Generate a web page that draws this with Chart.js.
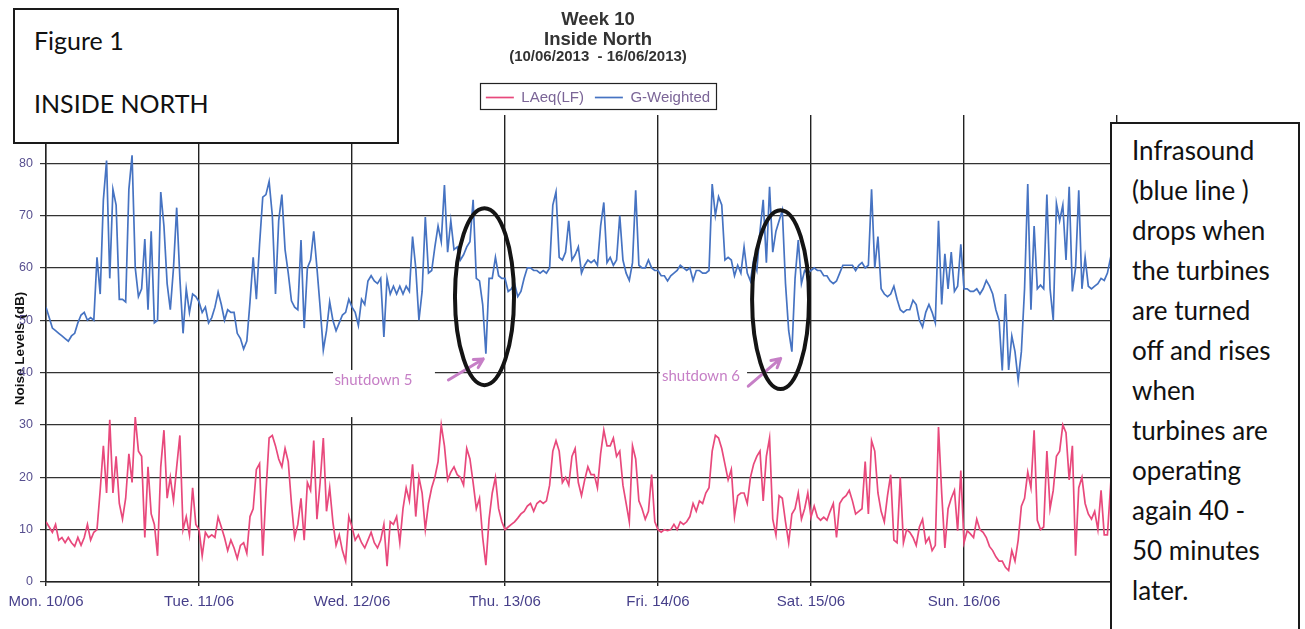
<!DOCTYPE html>
<html>
<head>
<meta charset="utf-8">
<script src="https://cdn.jsdelivr.net/npm/chart.js@4.4.1/dist/chart.umd.min.js"></script>
<style>
  html, body { margin: 0; padding: 0; background: #fff; }
  #wrap { position: relative; width: 1305px; height: 629px; overflow: hidden; background: #fff; }
  #c { position: absolute; left: 0; top: 0; }
  .box { position: absolute; box-sizing: border-box; background: #fff; border: 2px solid #1a1a1a; font-family: 'Lato', 'Open Sans', sans-serif; color: #111; }
  #fig { left: 13px; top: 8px; width: 386px; height: 136px; font-size: 25px; }
  #fig div { position: absolute; left: 19px; line-height: 30px; white-space: nowrap; }
  #note { left: 1110px; top: 122px; width: 190px; height: 540px; font-size: 26px; line-height: 40px; padding: 6px 0 0 20px; white-space: nowrap; }
</style>
</head>
<body>
<div id="wrap">
  <canvas id="c" width="1305" height="629"></canvas>
  <div class="box" id="fig"><div style="top:15px">Figure 1</div><div style="top:78px">INSIDE NORTH</div></div>
  <div class="box" id="note">Infrasound<br>(blue line )<br>drops when<br>the turbines<br>are turned<br>off and rises<br>when<br>turbines are<br>operating<br>again 40 -<br>50 minutes<br>later.</div>
</div>
<script>
// Tick labels (one per day)
const dayLabels = ['Mon. 10/06', 'Tue. 11/06', 'Wed. 12/06', 'Thu. 13/06', 'Fri. 14/06', 'Sat. 15/06', 'Sun. 16/06'];

// G-Weighted (dB), half-hourly readings per day
const gMon = [52.5,50.5,48.5,48,47.5,47,46.5,46,47,47.5,49.5,51,51.5,50,50.5,50,62,55,73,80.5,58,75,72,54,54,53.5,75,81.5,60,54.5,56,65.5,52,67,49.5,50,74.5,68,57,52,60,71.5,58,47.5,56,51.5,55,54.5];
const gTue = [53.5,51.5,52.5,49.5,50.5,52.5,55.4,53,50,52,51.5,51.5,47.5,46.5,44.5,46,53.5,62,54,64.5,73.5,74,76.5,70,55,69,74,63.5,59,53.7,52.5,52,65.3,48.5,60,61.5,67,60,52.5,44.3,48,53.5,50,48,49.5,51,51.5,54];
const gWed = [52.5,51.5,49,54,53,57.5,58.5,57.5,57,58,46.8,58,55,56.5,55,56.5,55,56.5,55.5,66,60,50,55.5,69.7,59,59.5,64,68,65,75.8,63,69,63.5,64,61.5,62.5,64,65,73,58,57.5,53,43.6,58,58,62,58.5,58];
const gThu = [58,55.5,56,57,54.5,55.5,58,60,60,59.5,59.5,59,59.5,59,60,72,74.5,62,61.5,63,69,61.5,62.5,64,59,60.5,61.5,61,61.5,60.5,68,72.5,61,62,60.5,61.5,70,61.5,59,57.6,61,74.8,60.5,60,60,61.5,60,59.5];
const gFri = [59.5,58.5,58.5,57.5,58.5,59,59.5,60.5,60,59.5,60,57.6,59.5,59.5,59,59,59.5,76,70,73.6,72,61.5,62,61.5,58.5,60.5,59,64,59,57.5,61.5,59.5,67,73,61,75.5,63,67,69,71,57,48,44,58,65.3,57,59.5,59];
const gSat = [59.5,60,59.5,59.5,58.5,58.5,57.5,57,57.5,59,60.5,60.5,60.5,60.5,59.5,60.5,61,60,60.5,75,60,66,56,55,54.5,55,56.5,54,52,51.5,52,52,53.8,53,50,48.7,51.5,53,51.5,49.5,69,53,62.7,56,63,55.5,56.5,64.5];
const gSun = [56,56,55.5,55.5,56,55,56,57.6,56.5,55,52,50,40.4,55,40.5,47,44,38.5,44,56,76,52,68,56,56.7,56,74,56,50,72.3,69,72,61.5,75.5,55.5,60,74.8,56,62,56.5,56,56.5,57,58,57.6,59,62,60];

// LAeq(LF) (dB), half-hourly readings per day
const lMon = [11.5,10.5,9.5,11,8,8.5,7.5,8.5,7.5,6.8,8.5,7,8.5,11,8,9.5,10,17.5,26,17,31,17,24,15,12,16,24.5,19,31.5,25,24,8.5,22,13,11,5,22,29,16,20,15.5,22,28,10,12.5,9,18,11];
const lTue = [10,5,9.5,8.5,9,8.5,12.4,10.5,8.5,6,8,6.5,4.5,7,7.5,5.5,12.5,14,21.5,22.6,5,17,27.5,28,26,23.5,22,25.5,23,15,8.5,11,16,8,19,17.5,27,12,19,27.5,13.5,18,11.5,7,9,6,4,12.5];
const lWed = [10.5,8,9,7.5,6.5,8,9.5,7.5,6.5,8,11,3,11.5,11,12.5,7.5,14,18,15.5,22.5,12.5,20,17,10,15,18,20,23,30,26,19.5,21,22,20.5,20,18.5,25.5,23.5,19,14,16,8.5,3.2,12,17,20,14,11.5];
const lThu = [10,10.5,11,11.5,12.2,13,13.5,14.5,15,13.5,15,15.5,15,15.5,18.5,25,27,25,19,20,18.5,24,25.5,19,16.5,19.5,22,20.5,20.5,18,24.5,29,26,26,27.5,24,25,18.5,15,11.5,26,23.5,15.5,14,12,13.5,20.5,11.5];
const lFri = [10,9.5,10,9.8,10,11,10,11.5,11,11.5,12.5,15,13.5,15.5,15,17,18,25,28,27.5,25.5,22.5,19.5,21.5,12.5,16.5,17,17,15,20,22.5,24,25,15.5,24,27.5,12,9,16.5,16,11.5,7.5,13,14,17,12,14,17];
const lSat = [12.4,14.5,12.4,11.8,12.4,11.8,13.5,15,8.5,15,16,16.5,17.5,15.5,13,13.5,14,23,13,27,25,17,13.5,11.5,16.5,20.5,8,7.5,20,7.5,10,9.5,8.5,7,10.5,12,7.5,8.5,6,7,29.6,17,6.5,14,16,17.5,9.8,21.3];
const lSun = [7.5,9.8,9.2,8.5,12,10,9.5,8.5,6.8,6,4.8,4,4,2.8,2.2,6,4,8,14.5,16,21,18,29,11.8,10,10.5,25,14,17.5,24,25,30,28.5,19.5,26,5,18,20,15,13,12,13.5,10,17.5,9,9,18.5,15];

const gDays = [gMon, gTue, gWed, gThu, gFri, gSat, gSun];
const lDays = [lMon, lTue, lWed, lThu, lFri, lSat, lSun];

function toPoints(days) {
  const pts = [];
  days.forEach((arr, d) => arr.forEach((v, i) => pts.push({ x: d + i / arr.length, y: v })));
  return pts;
}

// Hand-drawn annotations, in data units (days, dB)
const notes = {
  masks: [
    { x0: 1.876, x1: 2.542, y0: 40.5, y1: 31.5 },
    { x0: 4.013, x1: 4.582, y0: 41.2, y1: 35.7 }
  ],
  labels: [
    { text: 'shutdown 5', x: 2.14, y: 38.6 },
    { text: 'shutdown 6', x: 4.281, y: 39.3 }
  ],
  arrows: [
    { x0: 2.63, y0: 38.6, x1: 2.858, y1: 42.6 },
    { x0: 4.59, y0: 37.4, x1: 4.802, y1: 42.7 }
  ],
  ellipses: [
    { x: 2.866, y: 54.5, rx: 0.193, ry: 16.9 },
    { x: 4.801, y: 53.94, rx: 0.186, ry: 17.09 }
  ]
};

const annotate = {
  id: 'annotate',
  afterDraw(chart) {
    const ctx = chart.ctx;
    const xs = chart.scales.x, ys = chart.scales.y;
    const px = v => xs.getPixelForValue(v);
    const py = v => ys.getPixelForValue(v);
    ctx.save();
    // legend frame
    const hb = chart.legend.legendHitBoxes;
    if (hb && hb.length) {
      const first = hb[0], last = hb[hb.length - 1];
      ctx.strokeStyle = '#222';
      ctx.lineWidth = 1.2;
      ctx.strokeRect(Math.round(first.left - 6) + 0.5, Math.round(first.top - 7) + 0.5,
        Math.round(last.left + last.width + 6 - (first.left - 6)), Math.round(first.height + 11));
    }
    // white patches behind labels
    ctx.fillStyle = '#fff';
    notes.masks.forEach(m => {
      ctx.fillRect(px(m.x0), py(m.y0), px(m.x1) - px(m.x0), py(m.y1) - py(m.y0));
    });
    // labels
    ctx.fillStyle = '#c67fc6';
    ctx.font = "15px 'Lato', sans-serif";
    ctx.textAlign = 'center';
    ctx.textBaseline = 'middle';
    notes.labels.forEach(l => ctx.fillText(l.text, px(l.x), py(l.y)));
    // arrows
    ctx.strokeStyle = '#c67fc6';
    ctx.lineWidth = 3;
    ctx.lineCap = 'round';
    notes.arrows.forEach(a => {
      const x0 = px(a.x0), y0 = py(a.y0), x1 = px(a.x1), y1 = py(a.y1);
      const ang = Math.atan2(y1 - y0, x1 - x0);
      ctx.beginPath();
      ctx.moveTo(x0, y0); ctx.lineTo(x1, y1);
      ctx.moveTo(x1, y1); ctx.lineTo(x1 - 10 * Math.cos(ang - 0.5), y1 - 10 * Math.sin(ang - 0.5));
      ctx.moveTo(x1, y1); ctx.lineTo(x1 - 10 * Math.cos(ang + 0.5), y1 - 10 * Math.sin(ang + 0.5));
      ctx.stroke();
    });
    // ellipses
    ctx.strokeStyle = '#141414';
    ctx.lineWidth = 4;
    notes.ellipses.forEach(e => {
      const cx = px(e.x), cy = py(e.y);
      const rx = px(e.x + e.rx) - cx, ry = py(0) - py(e.ry);
      ctx.beginPath();
      ctx.ellipse(cx, cy, rx, ry, 0, 0, Math.PI * 2);
      ctx.stroke();
    });
    ctx.restore();
  }
};

Chart.defaults.font.family = "'Liberation Sans', Arial, sans-serif";

new Chart(document.getElementById('c'), {
  type: 'line',
  data: {
    datasets: [
      { label: 'LAeq(LF)', data: toPoints(lDays), borderColor: '#e8497c', backgroundColor: '#e8497c', borderWidth: 1.7 },
      { label: 'G-Weighted', data: toPoints(gDays), borderColor: '#4673c2', backgroundColor: '#4673c2', borderWidth: 1.7 }
    ]
  },
  options: {
    responsive: false,
    animation: false,
    devicePixelRatio: 1,
    parsing: false,
    elements: { point: { radius: 0 }, line: { tension: 0 } },
    layout: { padding: { left: 0, right: 109, top: 0, bottom: 0 } },
    plugins: {
      title: {
        display: true,
        text: ['Week 10', 'Inside North'],
        color: '#333',
        font: { size: 18.5, weight: 'bold', lineHeight: '20px' },
        padding: { top: 10, bottom: 0 }
      },
      subtitle: {
        display: true,
        text: '(10/06/2013  - 16/06/2013)',
        color: '#333',
        font: { size: 15, weight: 'bold', lineHeight: '14px' },
        padding: { top: 0, bottom: 15 }
      },
      legend: {
        display: true,
        labels: {
          usePointStyle: true,
          pointStyle: 'line',
          pointStyleWidth: 28,
          color: '#7b6597',
          font: { size: 15 },
          padding: 11
        }
      },
      tooltip: { enabled: false }
    },
    scales: {
      x: {
        type: 'linear',
        min: 0,
        max: 7,
        ticks: {
          stepSize: 1,
          autoSkip: false,
          maxRotation: 0,
          padding: 7,
          color: '#463f8a',
          font: { size: 15 },
          callback: v => dayLabels[v] !== undefined ? dayLabels[v] : ''
        },
        grid: { color: '#222', lineWidth: 1.4, tickLength: 4 },
        border: { color: '#222', width: 1.4 },
        afterFit: s => { s.height = 47; }
      },
      y: {
        type: 'linear',
        min: 0,
        max: 89.2,
        ticks: { stepSize: 10, includeBounds: false, padding: 7, color: '#574f8f', font: { size: 12.5 } },
        grid: { color: '#333', lineWidth: 1.2, tickLength: 6 },
        border: { color: '#222', width: 1.4 },
        title: {
          display: true,
          text: 'Noise Levels (dB)',
          color: '#111',
          font: { size: 13.5, weight: 'bold' },
          padding: { top: 12, bottom: 0 }
        },
        afterFit: s => { s.width = 46; }
      },
      y2: {
        type: 'linear',
        position: 'right',
        display: true,
        grid: { display: false },
        ticks: { display: false },
        border: { display: false },
        afterFit: s => { s.width = 79; }
      }
    }
  },
  plugins: [annotate]
});
</script>
</body>
</html>
